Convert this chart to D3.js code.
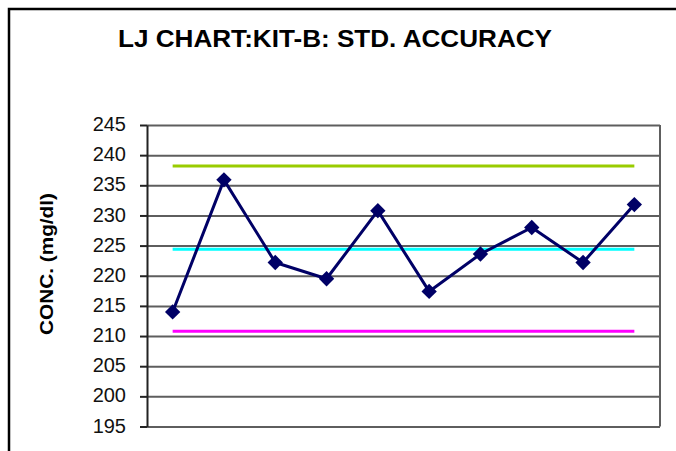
<!DOCTYPE html>
<html>
<head>
<meta charset="utf-8">
<script src="https://cdn.jsdelivr.net/npm/d3@7"></script>
<style>
  html, body { margin: 0; padding: 0; background: #fff; }
  svg { display: block; font-family: Arial, "Liberation Sans", sans-serif; }
</style>
</head>
<body>
<svg id="chart" width="676" height="451"></svg>
<script>
// Levey-Jennings control run: 10 measurements of the standard
const runs = [1, 2, 3, 4, 5, 6, 7, 8, 9, 10];
const concentration = [214.0, 235.9, 222.2, 219.5, 230.8, 217.4, 223.6, 228.0, 222.2, 231.8];

// Control limits (mean and ±2 SD)
const upperLimit = 238.2;
const meanLine = 224.4;
const lowerLimit = 210.8;

const yTicks = [195, 200, 205, 210, 215, 220, 225, 230, 235, 240, 245];

const svg = d3.select("#chart");
const plot = { left: 147, right: 660, top: 125, bottom: 426.5 };

// outer frame
svg.append("rect")
  .attr("x", 9).attr("y", 9)
  .attr("width", 720).attr("height", 500)
  .attr("fill", "none").attr("stroke", "#000").attr("stroke-width", 2.5);

const x = d3.scalePoint().domain(runs).range([plot.left, plot.right]).padding(0.5);
const y = d3.scaleLinear().domain([195, 245]).range([plot.bottom, plot.top]);

// horizontal gridlines
svg.append("g")
  .attr("transform", `translate(${plot.left},0)`)
  .call(d3.axisLeft(y).tickValues(yTicks).tickSize(-(plot.right - plot.left)).tickFormat(""))
  .call(g => g.select(".domain").remove())
  .call(g => g.selectAll(".tick line").attr("stroke", "#5e5e5e").attr("stroke-width", 2));

// right border of plot area
svg.append("line")
  .attr("x1", plot.right).attr("x2", plot.right)
  .attr("y1", y(245)).attr("y2", y(195))
  .attr("stroke", "#5e5e5e").attr("stroke-width", 2);

// y axis
const yAxis = svg.append("g")
  .attr("transform", `translate(${plot.left},0)`)
  .call(d3.axisLeft(y).tickValues(yTicks).tickSize(7).tickSizeOuter(0).tickPadding(14));
yAxis.select(".domain").attr("stroke", "#222").attr("stroke-width", 2);
yAxis.selectAll(".tick line").attr("stroke", "#222").attr("stroke-width", 2);
yAxis.selectAll(".tick text")
  .attr("font-size", 20).attr("fill", "#111")
  .attr("font-family", "Arial, 'Liberation Sans', sans-serif")
  .attr("dy", "0.28em");

// control limit lines
const limits = [
  { value: upperLimit, color: "#99cc00" },
  { value: meanLine, color: "#00ffff" },
  { value: lowerLimit, color: "#ff00ff" }
];
svg.append("g").selectAll("line").data(limits).join("line")
  .attr("x1", x(runs[0])).attr("x2", x(runs[runs.length - 1]))
  .attr("y1", d => y(d.value)).attr("y2", d => y(d.value))
  .attr("stroke", d => d.color).attr("stroke-width", 3);

// measurement line
const pts = runs.map((r, i) => [x(r), y(concentration[i])]);
svg.append("path")
  .attr("d", d3.line()(pts))
  .attr("fill", "none").attr("stroke", "#000066").attr("stroke-width", 3)
  .attr("stroke-linejoin", "round");

// diamond markers
const diamond = d3.symbol().type(d3.symbolDiamond2).size(150);
svg.append("g").selectAll("path").data(pts).join("path")
  .attr("d", diamond)
  .attr("transform", d => `translate(${d[0]},${d[1]})`)
  .attr("fill", "#000066");

// title
svg.append("text")
  .attr("x", 118).attr("y", 47)
  .attr("font-size", 24).attr("font-weight", "bold").attr("fill", "#000")
  .attr("textLength", 434).attr("lengthAdjust", "spacingAndGlyphs")
  .text("LJ CHART:KIT-B: STD. ACCURACY");

// y axis title
svg.append("text")
  .attr("transform", "translate(53,264) rotate(-90)")
  .attr("text-anchor", "middle")
  .attr("font-size", 18).attr("font-weight", "bold").attr("fill", "#000")
  .attr("textLength", 142).attr("lengthAdjust", "spacingAndGlyphs")
  .text("CONC. (mg/dl)");
</script>
</body>
</html>
